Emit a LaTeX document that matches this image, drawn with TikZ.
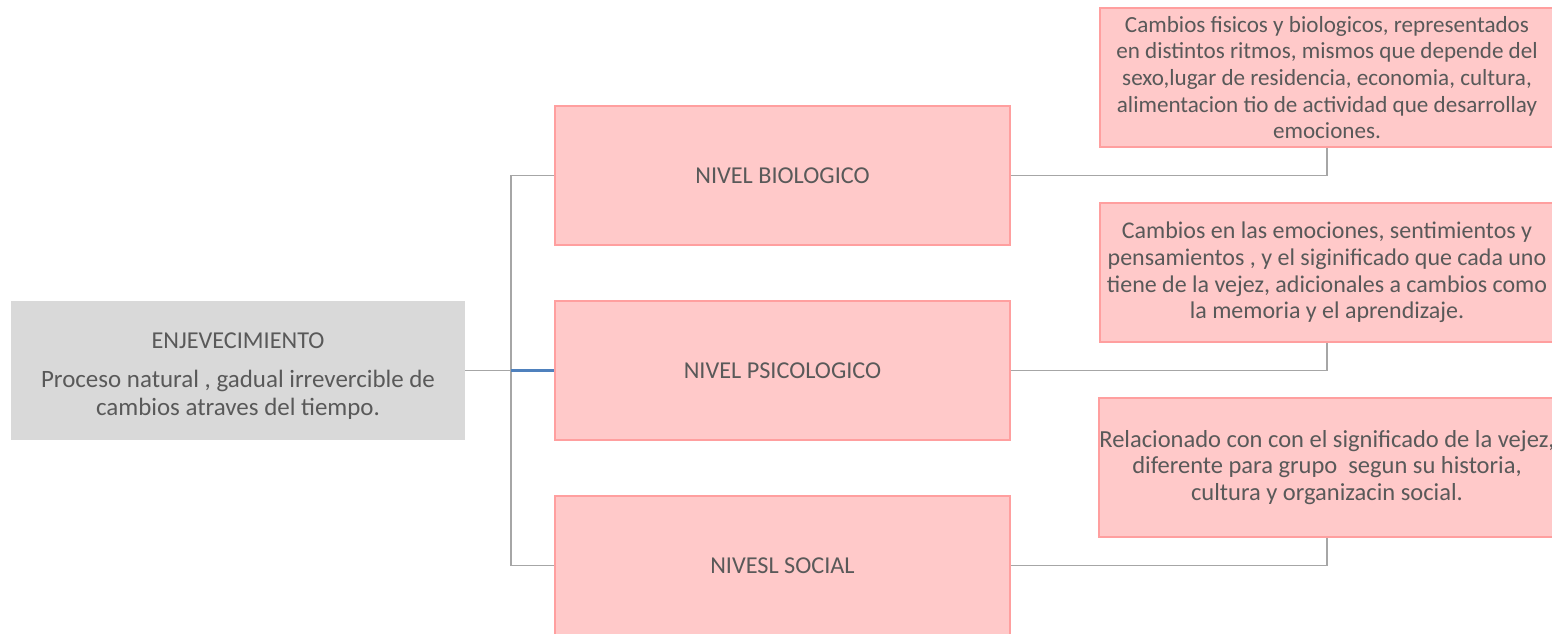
\documentclass[tikz,border=0pt]{standalone}
\usepackage{fontspec}
\setmainfont{Carlito}
\usepackage{xcolor}

\definecolor{boxpink}{HTML}{FFC9C9}
\definecolor{edgepink}{HTML}{FF9F9F}
\definecolor{rootgray}{HTML}{D9D9D9}
\definecolor{txtgray}{HTML}{595959}
\definecolor{wiregray}{HTML}{A6A6A6}
\definecolor{wireblue}{HTML}{4F81BD}

\tikzset{
  rootbox/.style={fill=rootgray, minimum width=9.08cm, minimum height=2.78cm, align=center, text=txtgray, font=\fontsize{14.2}{16.2}\selectfont},
  levelbox/.style={fill=boxpink, draw=edgepink, line width=1.1pt, minimum width=9.1cm, minimum height=2.78cm, align=center, text=txtgray, font=\fontsize{13.8}{15.2}\selectfont},
  notebox/.style={levelbox, minimum width=9.08cm, inner xsep=0pt},
  wire/.style={wiregray, line width=0.6pt}
}

\begin{document}
\begin{tikzpicture}[x=0.02cm, y=-0.02cm]

\useasboundingbox (0,0) rectangle (1552,634);

% ===== Root =====

\node[rootbox] (root) at (238,370.5) {{\fontsize{13.8}{15}\selectfont\rule{0pt}{15.5pt}ENJEVECIMIENTO}\\[5.6pt]Proceso natural , gadual irrevercible de\\cambios atraves del tiempo.};

% ===== Levels =====

\node[levelbox] (bio) at (782.5,175.5) {NIVEL BIOLOGICO};
\node[levelbox] (psi) at (782.5,370.5) {NIVEL PSICOLOGICO};
\node[levelbox] (soc) at (782.5,565.5) {NIVESL SOCIAL};

% ===== Notes =====

\node[notebox, font=\fontsize{13.15}{15.2}\selectfont] (biotxt) at (1327,77.5) {Cambios fisicos y biologicos, representados\\en distintos ritmos, mismos que depende del\\sexo,lugar de residencia, economia, cultura,\\alimentacion tio de actividad que desarrollay\\emociones.};
\node[notebox, font=\fontsize{13.65}{15.2}\selectfont] (psitxt) at (1327,272.5) {Cambios en las emociones, sentimientos y\\pensamientos , y el siginificado que cada uno\\tiene de la vejez, adicionales a cambios como\\la memoria y el aprendizaje.};
\node[notebox, font=\fontsize{13.95}{15.2}\selectfont] (soctxt) at (1327,467.5) {Relacionado con con el significado de la vejez,\\diferente para grupo\ \ segun su historia,\\cultura y organizacin social.};

% ===== Wires =====

\coordinate (bar) at (511,370.5);
\draw[wire] (root.east) -- (bar);
\draw[wire] (bio.west) -| (bar) |- (soc.west);
\draw[wireblue, line width=1.2pt] (bar) -- (psi.west);

\draw[wire] (bio.east) -| (biotxt.south);
\draw[wire] (psi.east) -| (psitxt.south);
\draw[wire] (soc.east) -| (soctxt.south);

\end{tikzpicture}
\end{document}
